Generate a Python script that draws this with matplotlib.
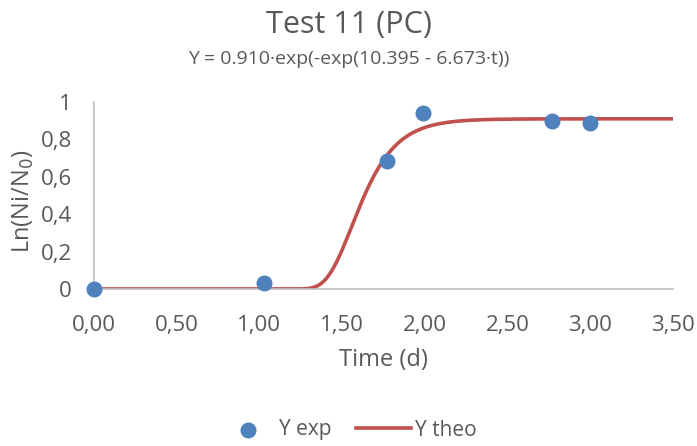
"""Gompertz fit for test 11 (PC): experimental points and fitted curve."""
import matplotlib
matplotlib.use("Agg")
import matplotlib.pyplot as plt
import numpy as np

# experimental data
t_exp = [0.00, 1.03, 1.77, 1.99, 2.77, 3.00]
y_exp = [0.00, 0.032, 0.685, 0.940, 0.898, 0.886]

# fitted Gompertz parameters
A, B, K = 0.910, 10.395, 6.673

TXT = "#595959"
plt.rcParams["font.family"] = ["Open Sans", "DejaVu Sans"]


def gompertz(t):
    return A * np.exp(-np.exp(B - K * t))


fig = plt.figure(figsize=(6.97, 4.46), dpi=100)
ax = fig.add_axes([94 / 697, 1 - 289 / 446, 579 / 697, 187 / 446])

t = np.linspace(0.0, 3.5, 400)
ax.plot(t, gompertz(t), color="#c0504d", lw=2.6, label="Y theo", zorder=2)
ax.scatter(t_exp, y_exp, s=110, color="#4f81bd", label="Y exp", zorder=3,
           clip_on=False)

ax.set_xlim(0, 3.5)
ax.set_ylim(0, 1)
ax.set_xticks(np.arange(0, 3.51, 0.5))
ax.set_xticklabels([f"{v:.2f}".replace(".", ",") for v in np.arange(0, 3.51, 0.5)])
ax.set_yticks([0, 0.2, 0.4, 0.6, 0.8, 1])
ax.set_yticklabels(["0", "0,2", "0,4", "0,6", "0,8", "1"])
for s in ["top", "right"]:
    ax.spines[s].set_visible(False)
for s in ["left", "bottom"]:
    ax.spines[s].set_color("#bfbfbf")
    ax.spines[s].set_linewidth(1.2)
ax.tick_params(length=0, labelsize=16, colors=TXT)
ax.tick_params(axis="x", pad=19)
ax.tick_params(axis="y", pad=16)

ax.set_xlabel("Time (d)", fontsize=17, color=TXT, labelpad=8)
ax.set_ylabel("Ln(Ni/N$_0$)", fontsize=17, color=TXT)
ax.yaxis.set_label_coords(-58 / 579, (289 - 201) / 187)

fig.text(0.5, 1 - 33 / 446, "Test 11 (PC)", ha="center", va="baseline",
         fontsize=22, color=TXT)
fig.text(0.5, 1 - 64 / 446, "Y = 0.910·exp(-exp(10.395 - 6.673·t))", ha="center",
         va="baseline", fontsize=14, color=TXT)

handles, labels = ax.get_legend_handles_labels()
fig.legend(handles[::-1], labels[::-1], loc="center", bbox_to_anchor=(0.5, 1 - 430 / 446),
           ncol=2, frameon=False, fontsize=15, labelcolor=TXT, handlelength=2.6,
           columnspacing=1.2, handletextpad=0.2)

fig.savefig("out.png")
